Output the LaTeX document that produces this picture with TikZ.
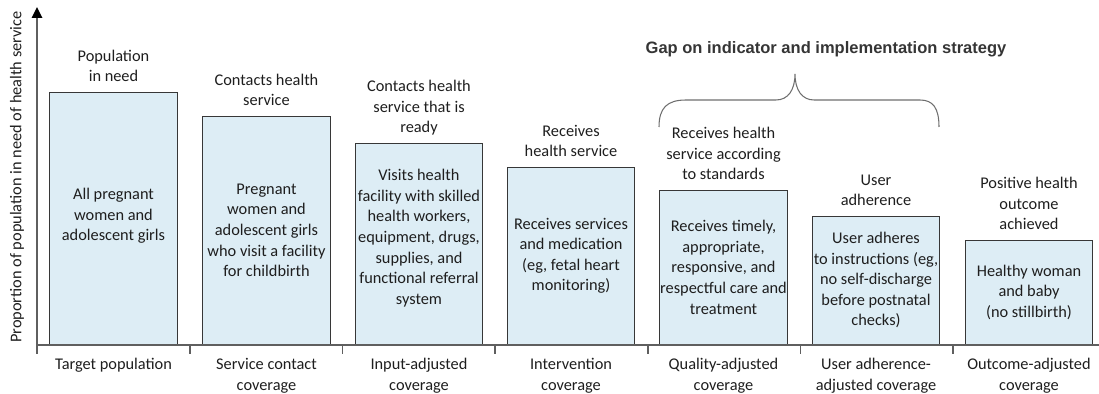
\documentclass[tikz,border=0pt]{standalone}
\usepackage{fontspec}
\setmainfont{Carlito}
\newfontfamily\gapfont{Liberation Sans}
\usepackage{xcolor}
\usetikzlibrary{arrows.meta,positioning}
\definecolor{barblue}{RGB}{221,237,245}
\definecolor{bargray}{RGB}{55,55,55}
\definecolor{axisgray}{RGB}{95,95,95}
\definecolor{textgray}{RGB}{30,30,30}
\definecolor{bracegray}{RGB}{110,110,110}

\begin{document}
\begin{tikzpicture}[x=0.02cm, y=-0.02cm,
  every node/.style={font=\fontsize{9.3}{11.7}\selectfont, text=textgray, inner sep=0pt},
  bar/.style={draw=bargray, fill=barblue, line width=0.8pt, minimum width=2.55cm, anchor=south, align=center},
  head/.style={align=center, text depth=0pt},
  foot/.style={align=center}]

\useasboundingbox (0,0) rectangle (1099,394);

% the bars
\node[bar, minimum height=5.04cm] (b1) at (113.5,345) {All pregnant\\women and\\adolescent girls\\[-7.2pt]};
\node[bar, minimum height=4.56cm] (b2) at (266.5,345) {Pregnant\\women and\\adolescent girls\\who visit a facility\\for childbirth};
\node[bar, minimum height=4.02cm] (b3) at (419,345) {Visits health\\facility with skilled\\health workers,\\equipment, drugs,\\supplies, and\\functional referral\\system\\[-3.7pt]};
\node[bar, minimum height=3.54cm] (b4) at (571,345) {Receives services\\and medication\\(eg, fetal heart\\monitoring)};
\node[bar, minimum height=3.08cm] (b5) at (723.5,345) {Receives timely,\\appropriate,\\responsive, and\\respectful care and\\treatment};
\node[bar, minimum height=2.56cm] (b6) at (876,345) {User adheres\\to instructions (eg,\\no self-discharge\\before postnatal\\checks)};
\node[bar, minimum height=2.08cm] (b7) at (1029,345) {Healthy woman\\and baby\\(no stillbirth)};

% labels over the bars
\node[head, above=0.19cm of b1] (h1) {Population\\in need};
\node[head, above=0.19cm of b2] (h2) {Contacts health\\service};
\node[head, above=0.19cm of b3] (h3) {Contacts health\\service that is\\ready};
\node[head, above=0.19cm of b4] (h4) {Receives\\health service};
\node[head, above=0.19cm of b5] (h5) {Receives health\\service according\\to standards};
\node[head, above=0.19cm of b6] (h6) {User\\adherence};
\node[head, above=0.19cm of b7] (h7) {Positive health\\outcome\\achieved};

% labels under the axis
\node[foot, below=0.26cm of b1] (f1) {Target population};
\node[foot, below=0.26cm of b2] (f2) {Service contact\\coverage};
\node[foot, below=0.26cm of b3] (f3) {Input-adjusted\\coverage};
\node[foot, below=0.26cm of b4] (f4) {Intervention\\coverage};
\node[foot, below=0.26cm of b5] (f5) {Quality-adjusted\\coverage};
\node[foot, below=0.26cm of b6] (f6) {User adherence-\\adjusted coverage};
\node[foot, below=0.26cm of b7] (f7) {Outcome-adjusted\\coverage};

% axes
\coordinate (o) at (37,345);
\coordinate (ytop) at (37,7);
\coordinate (xend) at (1099,345);
\draw[axisgray, line width=1pt] (o) -- (xend);
\draw[axisgray, line width=1pt, -{Triangle[length=0.22cm, width=0.21cm, black]}] (o) -- (ytop);
\foreach \k in {0,...,6}
  \draw[axisgray, line width=1pt] (37+152.7*\k,345) -- (37+152.7*\k,354);

\node[rotate=90] (ylab) at (17,177) {Proportion of population in need of health service};

% the gap brace
\node[font=\gapfont\bfseries\fontsize{9.4}{11}\selectfont, text=textgray!90] (gap) at (826,49) {Gap on indicator and implementation strategy};
\coordinate (bl) at (659,127);
\coordinate (btip) at (795,74);
\coordinate (br) at (939,127);
\draw[bracegray, line width=0.6pt] (bl) .. controls (659,108) and (667,100) .. (686,100) -- (776,100)
  .. controls (788,100) and (795,90) .. (btip)
  .. controls (795,90) and (802,100) .. (814,100) -- (920,100)
  .. controls (933,100) and (939,108) .. (br);

\end{tikzpicture}
\end{document}
